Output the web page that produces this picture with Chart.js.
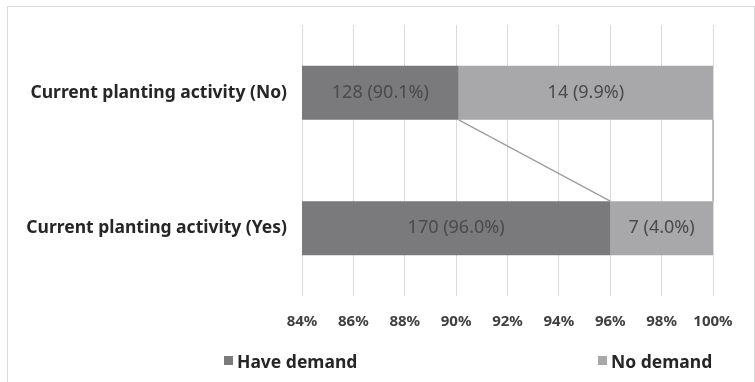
<!DOCTYPE html>
<html>
<head>
<meta charset="utf-8">
<script src="https://cdn.jsdelivr.net/npm/chart.js@4"></script>
<style>
  html, body { margin: 0; padding: 0; background: #fff; overflow: hidden; }
  #frame {
    position: absolute; left: 7px; top: 6px;
    width: 746px; height: 400px;
    border: 1px solid #d9d9d9;
  }
</style>
</head>
<body>
<div id="frame"><canvas id="demandChart" width="746" height="400"></canvas></div>
<script>
var categories = ['Current planting activity (No)', 'Current planting activity (Yes)'];
var seriesNames = ['Have demand', 'No demand'];
var haveCounts = [128, 170];
var noCounts = [14, 7];
var havePct = [90.1, 96.0];
var noPct = [9.9, 4.0];
var tickValues = [84, 86, 88, 90, 92, 94, 96, 98, 100];

var counts = [haveCounts, noCounts];
var pcts = [havePct, noPct];
var colors = ['#7a7a7c', '#a8a8aa'];

// lines joining the segment ends of neighbouring bars
var seriesLines = {
  id: 'seriesLines',
  afterDatasetsDraw: function (chart) {
    var ctx = chart.ctx;
    ctx.save();
    ctx.strokeStyle = '#9c9c9c';
    ctx.lineWidth = 1.2;
    chart.data.datasets.forEach(function (ds, i) {
      var bars = chart.getDatasetMeta(i).data;
      for (var k = 0; k < bars.length - 1; k++) {
        var a = bars[k], b = bars[k + 1];
        ctx.beginPath();
        ctx.moveTo(a.x, a.y + a.height / 2);
        ctx.lineTo(b.x, b.y - b.height / 2);
        ctx.stroke();
      }
    });
    ctx.restore();
  }
};

// "count (pct%)" centred in the visible part of each segment
var barLabels = {
  id: 'barLabels',
  afterDatasetsDraw: function (chart) {
    var ctx = chart.ctx, area = chart.chartArea;
    ctx.save();
    ctx.font = '18px "Noto Sans"';
    ctx.fillStyle = '#4a4a4a';
    ctx.textAlign = 'center';
    ctx.textBaseline = 'middle';
    chart.data.datasets.forEach(function (ds, i) {
      chart.getDatasetMeta(i).data.forEach(function (bar, k) {
        var left = Math.max(Math.min(bar.base, bar.x), area.left);
        var right = Math.min(Math.max(bar.base, bar.x), area.right);
        var txt = counts[i][k] + ' (' + pcts[i][k].toFixed(1) + '%)';
        ctx.fillText(txt, (left + right) / 2, bar.y);
      });
    });
    ctx.restore();
  }
};

// legend spread out along the bottom
var wideLegend = {
  id: 'wideLegend',
  afterDraw: function (chart) {
    var ctx = chart.ctx;
    var starts = [216, 590];
    var y = 356;
    ctx.save();
    ctx.font = 'bold 17.5px "Noto Sans"';
    ctx.textBaseline = 'middle';
    ctx.textAlign = 'left';
    chart.data.datasets.forEach(function (ds, i) {
      ctx.fillStyle = ds.backgroundColor;
      ctx.fillRect(starts[i], y - 7, 9, 9);
      ctx.fillStyle = '#262626';
      ctx.fillText(ds.label, starts[i] + 13, y);
    });
    ctx.restore();
  }
};

var ctx = document.getElementById('demandChart').getContext('2d');
var demandChart = new Chart(ctx, {
  type: 'bar',
  data: {
    labels: categories,
    datasets: [{
      label: seriesNames[0],
      data: havePct,
      backgroundColor: colors[0],
      clip: 0
    }, {
      label: seriesNames[1],
      data: noPct,
      backgroundColor: colors[1],
      clip: 0
    }]
  },
  options: {
    indexAxis: 'y',
    responsive: false,
    animation: false,
    barPercentage: 0.4,
    categoryPercentage: 1,
    layout: { padding: { top: 18, right: 41, bottom: 81, left: 0 } },
    plugins: {
      legend: { display: false },
      tooltip: { enabled: false }
    },
    scales: {
      x: {
        stacked: true,
        min: 84,
        max: 100,
        afterBuildTicks: function (scale) {
          scale.ticks = tickValues.map(function (v) { return { value: v }; });
        },
        afterFit: function (scale) { scale.height = 30; },
        grid: { color: '#d9d9d9', lineWidth: 1, drawTicks: false },
        border: { display: false },
        ticks: {
          padding: 17,
          color: '#404040',
          font: { family: '"Noto Sans"', size: 15, weight: 'bold' },
          callback: function (v) { return v + '%'; }
        }
      },
      y: {
        stacked: true,
        afterFit: function (scale) {
          scale.width = 294;
          scale.paddingTop = 0;
          scale.paddingBottom = 0;
        },
        grid: { display: false, drawTicks: false },
        border: { display: false },
        ticks: {
          padding: 15,
          color: '#262626',
          font: { family: '"Noto Sans"', size: 17.5, weight: 'bold' }
        }
      }
    }
  },
  plugins: [seriesLines, barLabels, wideLegend]
});
</script>
</body>
</html>
